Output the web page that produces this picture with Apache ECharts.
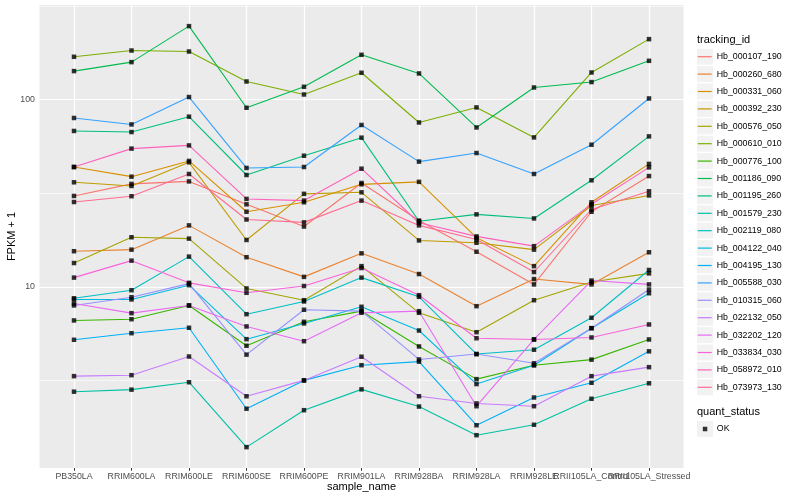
<!DOCTYPE html>
<html><head><meta charset="utf-8">
<script src="https://cdn.jsdelivr.net/npm/echarts@6/dist/echarts.min.js"></script>
<style>html,body{margin:0;padding:0;background:#fff}#c{width:800px;height:500px}</style>
</head><body><div id="c"></div>
<script>
const categories = ['PB350LA','RRIM600LA','RRIM600LE','RRIM600SE','RRIM600PE','RRIM901LA','RRIM928BA','RRIM928LA','RRIM928LE','RRII105LA_Control','RRII105LA_Stressed'];
const trackingIds = ['Hb_000107_190','Hb_000260_680','Hb_000331_060','Hb_000392_230','Hb_000576_050','Hb_000610_010','Hb_000776_100','Hb_001186_090','Hb_001195_260','Hb_001579_230','Hb_002119_080','Hb_004122_040','Hb_004195_130','Hb_005588_030','Hb_010315_060','Hb_022132_050','Hb_032202_120','Hb_033834_030','Hb_058972_010','Hb_073973_130'];
const colors = ['#F8766D','#EA8331','#D89000','#C09B00','#A3A500','#7CAE00','#39B600','#00BB4E','#00BF7D','#00C1A3','#00BFC4','#00BAE0','#00B0F6','#35A2FF','#9590FF','#C77CFF','#E76BF3','#FA62DB','#FF62BC','#FF6C91'];

const Hb_000107_190 = [30.6, 35.5, 36.6, 27.6, 21.0, 35.9, 22.6, 15.4, 10.3, 25.2, 39.1];
const Hb_000260_680 = [15.5, 15.8, 21.3, 14.4, 11.3, 15.1, 11.7, 7.88, 11.0, 10.3, 15.3];
const Hb_000331_060 = [43.7, 38.8, 47.1, 25.2, 28.3, 35.3, 36.4, 18.3, 12.9, 28.3, 45.4];
const Hb_000392_230 = [36.2, 34.6, 46.3, 17.8, 31.4, 32.0, 17.7, 17.2, 15.8, 27.2, 30.8];
const Hb_000576_050 = [13.4, 18.4, 18.1, 9.8, 8.48, 12.9, 7.26, 5.72, 8.48, 10.6, 11.8];
const Hb_000610_010 = [169.7, 183.3, 181.1, 125.2, 106.7, 139.4, 75.6, 91.0, 62.9, 139.9, 210.9];
const Hb_000776_100 = [6.61, 6.71, 7.95, 4.84, 6.50, 7.41, 4.80, 3.21, 3.81, 4.08, 5.23];
const Hb_001186_090 = [142.3, 158.9, 247.5, 90.6, 117.3, 173.9, 138.2, 71.1, 116.3, 124.3, 161.5];
const Hb_001195_260 = [68.1, 67.2, 81.2, 39.6, 50.2, 62.7, 22.4, 24.4, 23.2, 37.1, 63.7];
const Hb_001579_230 = [2.75, 2.82, 3.09, 1.39, 2.19, 2.83, 2.29, 1.61, 1.83, 2.52, 3.05];
const Hb_002119_080 = [8.69, 9.59, 14.5, 7.14, 8.35, 11.2, 8.84, 4.37, 4.61, 6.83, 12.3];
const Hb_004122_040 = [8.56, 8.56, 10.2, 5.25, 6.37, 7.82, 5.84, 3.02, 3.81, 6.01, 9.24];
const Hb_004195_130 = [5.21, 5.65, 6.04, 2.23, 3.16, 3.81, 3.98, 1.82, 2.56, 3.07, 4.52];
const Hb_005588_030 = [79.9, 73.8, 103.4, 43.2, 43.7, 73.3, 46.7, 51.9, 40.1, 57.5, 101.6];
const Hb_010315_060 = [7.95, 8.80, 10.4, 4.34, 7.54, 7.41, 4.09, 4.37, 3.90, 6.01, 9.67];
const Hb_022132_050 = [3.33, 3.37, 4.24, 2.60, 3.16, 4.23, 2.60, 2.38, 2.30, 3.33, 3.72];
const Hb_032202_120 = [8.14, 7.23, 7.95, 6.14, 5.12, 7.26, 7.41, 2.30, 5.23, 10.8, 10.3];
const Hb_033834_030 = [11.2, 13.8, 10.5, 9.29, 10.1, 12.6, 9.02, 5.31, 5.23, 5.36, 6.29];
const Hb_058972_010 = [43.7, 54.8, 57.0, 29.5, 28.9, 42.8, 22.0, 18.6, 16.5, 27.6, 43.5];
const Hb_073973_130 = [28.4, 30.5, 40.1, 22.9, 22.1, 28.9, 21.3, 17.9, 12.0, 25.9, 32.4];

const yMajorTicks = [10, 100];
const yMinorBreaks = [3.1623, 31.623, 316.23];

const seriesValues = [Hb_000107_190, Hb_000260_680, Hb_000331_060, Hb_000392_230, Hb_000576_050, Hb_000610_010, Hb_000776_100, Hb_001186_090, Hb_001195_260, Hb_001579_230, Hb_002119_080, Hb_004122_040, Hb_004195_130, Hb_005588_030, Hb_010315_060, Hb_022132_050, Hb_032202_120, Hb_033834_030, Hb_058972_010, Hb_073973_130];

const FONT = '"Liberation Sans", Arial, Helvetica, sans-serif';
const xIdx = categories.map((c, i) => i);
const evenIdx = xIdx.filter(i => i % 2 === 0);
const oddIdx = xIdx.filter(i => i % 2 === 1);

const lineSeries = trackingIds.map((id, k) => ({
  name: id, type: 'line', color: colors[k], z: 2, silent: true, animation: false,
  xAxisIndex: 0, yAxisIndex: 0,
  symbol: 'none', showSymbol: false,
  lineStyle: { width: 1.1, color: colors[k] },
  data: seriesValues[k].map((v, i) => [i, v])
}));

const pointData = [];
seriesValues.forEach(arr => arr.forEach((v, i) => pointData.push([i, v])));

const gridSeries = {
  type: 'line', name: '_grid', data: [], z: 1, silent: true, animation: false,
  xAxisIndex: 0, yAxisIndex: 0,
  markLine: {
    silent: true, animation: false, z: 1, symbol: ['none', 'none'], label: { show: false },
    emphasis: { disabled: true },
    lineStyle: { color: '#FFFFFF', type: 'solid', width: 1.2 },
    data: [
      ...yMajorTicks.map(v => ({ yAxis: v })),
      ...yMinorBreaks.map(v => ({ yAxis: v, lineStyle: { color: '#FFFFFF', type: 'solid', width: 0.6 } })),
      ...xIdx.map(i => ({ xAxis: i }))
    ]
  }
};

const legendTop = 50.7, legendStep = 17.4;
const keyBoxes = trackingIds.map((id, k) => ({
  type: 'rect', silent: true, z: -1,
  shape: { x: 697, y: legendTop + 6 + k * legendStep - 8, width: 16, height: 16 },
  style: { fill: '#F2F2F2' }
}));
keyBoxes.push({ type: 'rect', silent: true, z: -1, shape: { x: 697, y: 421, width: 16, height: 16 }, style: { fill: '#F2F2F2' } });

const xLabelStyle = { margin: 4.5, fontFamily: FONT, fontSize: 8.8, color: '#4D4D4D', formatter: v => categories[Math.round(v)] || '', hideOverlap: false, showMinLabel: true, showMaxLabel: true };

const option = {
  animation: false,
  backgroundColor: '#FFFFFF',
  title: [
    { text: 'tracking_id', left: 697, top: 34, padding: 0, textStyle: { fontFamily: FONT, fontSize: 11, fontWeight: 'normal', color: '#000' } },
    { text: 'quant_status', left: 697, top: 406, padding: 0, textStyle: { fontFamily: FONT, fontSize: 11, fontWeight: 'normal', color: '#000' } }
  ],
  graphic: keyBoxes,
  legend: [
    {
      data: trackingIds, orient: 'vertical', left: 697.7, top: legendTop, padding: 0,
      icon: 'rect', itemWidth: 14, itemHeight: 1.2, itemGap: legendStep - 12,
      selectedMode: false,
      textStyle: { fontFamily: FONT, fontSize: 8.8, color: '#000', lineHeight: 12 }
    },
    {
      data: ['OK'], orient: 'vertical', left: 702.8, top: 423, padding: 0,
      icon: 'rect', itemWidth: 4.5, itemHeight: 4.5, selectedMode: false,
      textStyle: { fontFamily: FONT, fontSize: 8.8, color: '#000', lineHeight: 12, padding: [0, 0, 0, 4.5] }
    }
  ],
  grid: { left: 39.5, right: 116.5, top: 5, bottom: 32, show: true, backgroundColor: '#EBEBEB', borderWidth: 0, containLabel: false, outerBoundsMode: 'none' },
  xAxis: [
    {
      type: 'value', min: -0.6, max: 10.6, position: 'bottom',
      name: 'sample_name', nameLocation: 'middle', nameGap: 13, nameMoveOverlap: false,
      nameTextStyle: { fontFamily: FONT, fontSize: 11, color: '#000' },
      axisLine: { show: false },
      axisTick: { show: true, length: 2.7, lineStyle: { color: '#333333', width: 1 }, customValues: xIdx },
      axisLabel: Object.assign({ customValues: evenIdx }, xLabelStyle),
      splitLine: { show: false }, minorSplitLine: { show: false }
    },
    {
      type: 'value', min: -0.6, max: 10.6, position: 'bottom', offset: 0,
      axisLine: { show: false },
      axisTick: { show: false },
      axisLabel: Object.assign({ customValues: oddIdx }, xLabelStyle),
      splitLine: { show: false }, minorSplitLine: { show: false }
    }
  ],
  yAxis: {
    type: 'log', logBase: 10, min: 1.075, max: 321,
    name: 'FPKM + 1', nameLocation: 'middle', nameGap: 22, nameRotate: 90, nameMoveOverlap: false,
    nameTextStyle: { fontFamily: FONT, fontSize: 11, color: '#000' },
    axisLine: { show: false },
    axisTick: { show: true, length: 2.7, lineStyle: { color: '#333333', width: 1 }, customValues: yMajorTicks },
    axisLabel: { customValues: yMajorTicks, margin: 4.5, fontFamily: FONT, fontSize: 8.8, color: '#4D4D4D', formatter: v => String(Math.round(v)) },
    splitLine: { show: false }, minorSplitLine: { show: false }
  },
  series: [
    gridSeries,
    ...lineSeries,
    {
      name: 'OK', type: 'scatter', z: 3, silent: true, animation: false,
      xAxisIndex: 0, yAxisIndex: 0,
      symbol: 'rect', symbolSize: 4.5, itemStyle: { color: '#000000' },
      data: pointData
    }
  ]
};

const chart = echarts.init(document.getElementById('c'));
chart.setOption(option);
</script>
</body></html>
